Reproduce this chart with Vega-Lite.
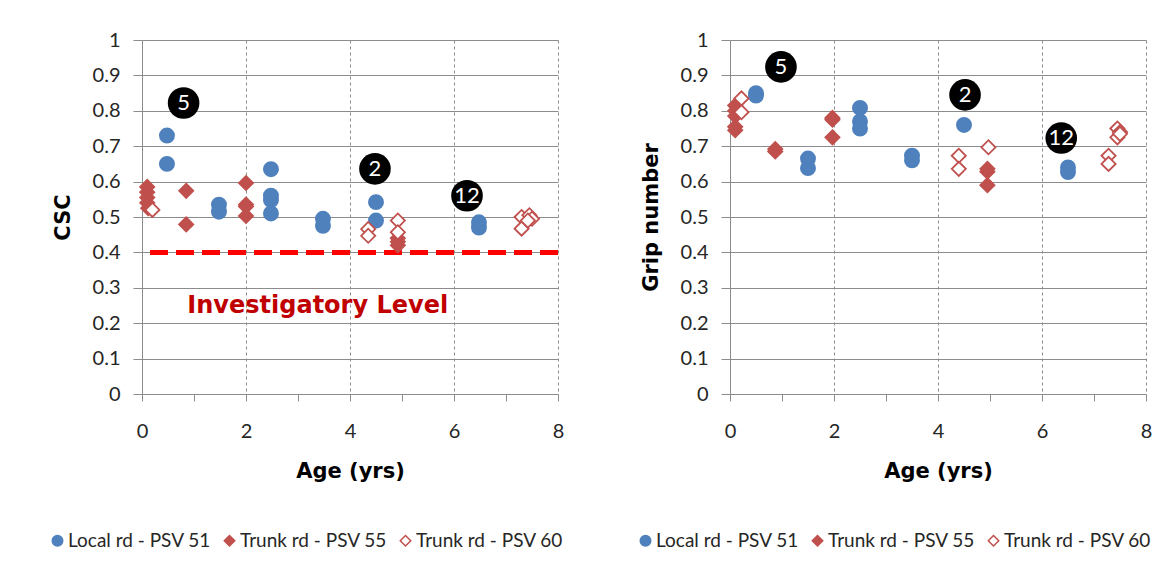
{
  "$schema": "https://vega.github.io/schema/vega-lite/v6.json",
  "background": "white",
  "padding": {"left": 48, "top": 30, "right": 10, "bottom": 10},
  "datasets": {
    "csc": [
      {"series": "Local rd - PSV 51", "age": 0.48, "value": 0.73},
      {"series": "Local rd - PSV 51", "age": 0.48, "value": 0.65},
      {"series": "Local rd - PSV 51", "age": 1.48, "value": 0.535},
      {"series": "Local rd - PSV 51", "age": 1.48, "value": 0.515},
      {"series": "Local rd - PSV 51", "age": 2.48, "value": 0.635},
      {"series": "Local rd - PSV 51", "age": 2.48, "value": 0.56},
      {"series": "Local rd - PSV 51", "age": 2.48, "value": 0.548},
      {"series": "Local rd - PSV 51", "age": 2.48, "value": 0.51},
      {"series": "Local rd - PSV 51", "age": 3.48, "value": 0.495},
      {"series": "Local rd - PSV 51", "age": 3.48, "value": 0.475},
      {"series": "Local rd - PSV 51", "age": 4.5, "value": 0.542},
      {"series": "Local rd - PSV 51", "age": 4.5, "value": 0.49},
      {"series": "Local rd - PSV 51", "age": 6.48, "value": 0.485},
      {"series": "Local rd - PSV 51", "age": 6.48, "value": 0.47},
      {"series": "Trunk rd - PSV 55", "age": 0.1, "value": 0.585},
      {"series": "Trunk rd - PSV 55", "age": 0.1, "value": 0.57},
      {"series": "Trunk rd - PSV 55", "age": 0.1, "value": 0.555},
      {"series": "Trunk rd - PSV 55", "age": 0.1, "value": 0.54},
      {"series": "Trunk rd - PSV 55", "age": 0.12, "value": 0.525},
      {"series": "Trunk rd - PSV 55", "age": 0.85, "value": 0.574},
      {"series": "Trunk rd - PSV 55", "age": 0.85, "value": 0.479},
      {"series": "Trunk rd - PSV 55", "age": 2.0, "value": 0.596},
      {"series": "Trunk rd - PSV 55", "age": 2.0, "value": 0.535},
      {"series": "Trunk rd - PSV 55", "age": 2.0, "value": 0.53},
      {"series": "Trunk rd - PSV 55", "age": 2.0, "value": 0.503},
      {"series": "Trunk rd - PSV 55", "age": 4.92, "value": 0.44},
      {"series": "Trunk rd - PSV 55", "age": 4.92, "value": 0.43},
      {"series": "Trunk rd - PSV 55", "age": 4.92, "value": 0.42},
      {"series": "Trunk rd - PSV 60", "age": 0.2, "value": 0.52},
      {"series": "Trunk rd - PSV 60", "age": 4.35, "value": 0.466},
      {"series": "Trunk rd - PSV 60", "age": 4.35, "value": 0.447},
      {"series": "Trunk rd - PSV 60", "age": 4.92, "value": 0.49},
      {"series": "Trunk rd - PSV 60", "age": 4.92, "value": 0.457},
      {"series": "Trunk rd - PSV 60", "age": 7.3, "value": 0.5},
      {"series": "Trunk rd - PSV 60", "age": 7.3, "value": 0.467},
      {"series": "Trunk rd - PSV 60", "age": 7.45, "value": 0.505},
      {"series": "Trunk rd - PSV 60", "age": 7.5, "value": 0.495},
      {"series": "Trunk rd - PSV 60", "age": 7.42, "value": 0.49}
    ],
    "grip": [
      {"series": "Local rd - PSV 51", "age": 0.5, "value": 0.85},
      {"series": "Local rd - PSV 51", "age": 0.5, "value": 0.843},
      {"series": "Local rd - PSV 51", "age": 1.5, "value": 0.665},
      {"series": "Local rd - PSV 51", "age": 1.5, "value": 0.638},
      {"series": "Local rd - PSV 51", "age": 2.5, "value": 0.808},
      {"series": "Local rd - PSV 51", "age": 2.5, "value": 0.77},
      {"series": "Local rd - PSV 51", "age": 2.5, "value": 0.75},
      {"series": "Local rd - PSV 51", "age": 3.5, "value": 0.673},
      {"series": "Local rd - PSV 51", "age": 3.5, "value": 0.66},
      {"series": "Local rd - PSV 51", "age": 4.5, "value": 0.76},
      {"series": "Local rd - PSV 51", "age": 6.5, "value": 0.64},
      {"series": "Local rd - PSV 51", "age": 6.5, "value": 0.627},
      {"series": "Trunk rd - PSV 55", "age": 0.1, "value": 0.815},
      {"series": "Trunk rd - PSV 55", "age": 0.1, "value": 0.8},
      {"series": "Trunk rd - PSV 55", "age": 0.1, "value": 0.785},
      {"series": "Trunk rd - PSV 55", "age": 0.1, "value": 0.755},
      {"series": "Trunk rd - PSV 55", "age": 0.1, "value": 0.745},
      {"series": "Trunk rd - PSV 55", "age": 0.87, "value": 0.692},
      {"series": "Trunk rd - PSV 55", "age": 0.87, "value": 0.685},
      {"series": "Trunk rd - PSV 55", "age": 1.97, "value": 0.78},
      {"series": "Trunk rd - PSV 55", "age": 1.97, "value": 0.775},
      {"series": "Trunk rd - PSV 55", "age": 1.97, "value": 0.725},
      {"series": "Trunk rd - PSV 55", "age": 4.95, "value": 0.636},
      {"series": "Trunk rd - PSV 55", "age": 4.95, "value": 0.628},
      {"series": "Trunk rd - PSV 55", "age": 4.95, "value": 0.59},
      {"series": "Trunk rd - PSV 60", "age": 0.22, "value": 0.835},
      {"series": "Trunk rd - PSV 60", "age": 0.22, "value": 0.796},
      {"series": "Trunk rd - PSV 60", "age": 4.4, "value": 0.673},
      {"series": "Trunk rd - PSV 60", "age": 4.4, "value": 0.636},
      {"series": "Trunk rd - PSV 60", "age": 4.97, "value": 0.697},
      {"series": "Trunk rd - PSV 60", "age": 7.28, "value": 0.673},
      {"series": "Trunk rd - PSV 60", "age": 7.28, "value": 0.65},
      {"series": "Trunk rd - PSV 60", "age": 7.45, "value": 0.75},
      {"series": "Trunk rd - PSV 60", "age": 7.5, "value": 0.74},
      {"series": "Trunk rd - PSV 60", "age": 7.45, "value": 0.725},
      {"series": "Trunk rd - PSV 60", "age": 7.5, "value": 0.735}
    ],
    "annL": [
      {"age": 0.8, "value": 0.822, "label": "5"},
      {"age": 4.48, "value": 0.636, "label": "2"},
      {"age": 6.25, "value": 0.56, "label": "12"}
    ],
    "annR": [
      {"age": 0.98, "value": 0.924, "label": "5"},
      {"age": 4.52, "value": 0.845, "label": "2"},
      {"age": 6.37, "value": 0.723, "label": "12"}
    ],
    "level": [
      {"value": 0.4, "age": 3.38, "labelValue": 0.249, "label": "Investigatory Level"}
    ]
  },
  "spacing": 72,
  "resolve": {"legend": {"fill": "independent", "stroke": "independent", "shape": "independent"}},
  "hconcat": [
    {
      "width": 416,
      "height": 354,
      "encoding": {
        "x": {"field": "age", "type": "quantitative", "scale": {"domain": [0, 8], "nice": false},
          "axis": {"title": "Age (yrs)", "values": [0,1,2,3,4,5,6,7,8], "labelExpr": "datum.value % 2 ? '' : datum.label",
            "gridOpacity": {"condition": {"test": "datum.value % 2 === 1 || datum.value === 0", "value": 0}, "value": 1}}},
        "y": {"field": "value", "type": "quantitative", "scale": {"domain": [0, 1], "nice": false},
          "axis": {"title": "CSC", "values": [0,0.1,0.2,0.3,0.4,0.5,0.6,0.7,0.8,0.9,1]}}
      },
      "layer": [
        {
          "data": {"name": "level"},
          "mark": {"type": "rule", "color": "#ff0000", "strokeWidth": 5, "strokeDash": [18, 8]},
          "encoding": {"x": null}
        },
        {
          "data": {"name": "level"},
          "mark": {"type": "text", "color": "#c00000", "font": "DejaVu Sans", "fontWeight": "bold", "fontSize": 24},
          "encoding": {
            "y": {"field": "labelValue", "type": "quantitative"},
            "text": {"field": "label"}
          }
        },
        {
          "data": {"name": "csc"},
          "mark": {"type": "point", "size": 200, "strokeWidth": 1.8, "opacity": 1},
          "encoding": {
            "fill": {"field": "series", "type": "nominal", "scale": {"domain": ["Local rd - PSV 51", "Trunk rd - PSV 55", "Trunk rd - PSV 60"], "range": ["#4f81bd", "#c0504d", "#ffffff"]},
              "legend": {"title": null, "orient": "none", "legendX": -94, "legendY": 491, "direction": "horizontal"}},
            "stroke": {"field": "series", "type": "nominal", "scale": {"domain": ["Local rd - PSV 51", "Trunk rd - PSV 55", "Trunk rd - PSV 60"], "range": ["#4f81bd", "#c0504d", "#c0504d"]},
              "legend": {"title": null, "orient": "none", "legendX": -94, "legendY": 491, "direction": "horizontal"}},
            "shape": {"field": "series", "type": "nominal", "scale": {"domain": ["Local rd - PSV 51", "Trunk rd - PSV 55", "Trunk rd - PSV 60"], "range": ["circle", "diamond", "diamond"]},
              "legend": {"title": null, "orient": "none", "legendX": -94, "legendY": 491, "direction": "horizontal"}}
          }
        },
        {
          "data": {"name": "annL"},
          "mark": {"type": "point", "filled": true, "color": "#000000", "size": 1000, "opacity": 1}
        },
        {
          "data": {"name": "annL"},
          "mark": {"type": "text", "color": "#ffffff", "fontSize": 22, "font": "Lato"},
          "encoding": {"text": {"field": "label"}}
        }
      ]
    },
    {
      "width": 416,
      "height": 354,
      "encoding": {
        "x": {"field": "age", "type": "quantitative", "scale": {"domain": [0, 8], "nice": false},
          "axis": {"title": "Age (yrs)", "values": [0,1,2,3,4,5,6,7,8], "labelExpr": "datum.value % 2 ? '' : datum.label",
            "gridOpacity": {"condition": {"test": "datum.value % 2 === 1 || datum.value === 0", "value": 0}, "value": 1}}},
        "y": {"field": "value", "type": "quantitative", "scale": {"domain": [0, 1], "nice": false},
          "axis": {"title": "Grip number", "values": [0,0.1,0.2,0.3,0.4,0.5,0.6,0.7,0.8,0.9,1]}}
      },
      "layer": [
        {
          "data": {"name": "grip"},
          "mark": {"type": "point", "size": 200, "strokeWidth": 1.8, "opacity": 1},
          "encoding": {
            "fill": {"field": "series", "type": "nominal", "scale": {"domain": ["Local rd - PSV 51", "Trunk rd - PSV 55", "Trunk rd - PSV 60"], "range": ["#4f81bd", "#c0504d", "#ffffff"]},
              "legend": {"title": null, "orient": "none", "legendX": -94, "legendY": 491, "direction": "horizontal"}},
            "stroke": {"field": "series", "type": "nominal", "scale": {"domain": ["Local rd - PSV 51", "Trunk rd - PSV 55", "Trunk rd - PSV 60"], "range": ["#4f81bd", "#c0504d", "#c0504d"]},
              "legend": {"title": null, "orient": "none", "legendX": -94, "legendY": 491, "direction": "horizontal"}},
            "shape": {"field": "series", "type": "nominal", "scale": {"domain": ["Local rd - PSV 51", "Trunk rd - PSV 55", "Trunk rd - PSV 60"], "range": ["circle", "diamond", "diamond"]},
              "legend": {"title": null, "orient": "none", "legendX": -94, "legendY": 491, "direction": "horizontal"}}
          }
        },
        {
          "data": {"name": "annR"},
          "mark": {"type": "point", "filled": true, "color": "#000000", "size": 1000, "opacity": 1}
        },
        {
          "data": {"name": "annR"},
          "mark": {"type": "text", "color": "#ffffff", "fontSize": 22, "font": "Lato"},
          "encoding": {"text": {"field": "label"}}
        }
      ]
    }
  ],
  "config": {
    "font": "Lato",
    "view": {"stroke": null},
    "axis": {
      "domainColor": "#8c8c8c",
      "tickColor": "#8c8c8c",
      "gridColor": "#8c8c8c",
      "gridWidth": 1,
      "labelFont": "Lato",
      "labelFontSize": 20,
      "labelColor": "#262626",
      "labelOverlap": false,
      "titleFont": "DejaVu Sans",
      "titleFontSize": 21,
      "titleFontWeight": "bold",
      "titleColor": "#000000"
    },
    "axisX": {"gridDash": [3, 3], "tickSize": 7, "labelPadding": 20, "titlePadding": 19, "labelFlush": false},
    "axisY": {"tickSize": 9, "labelPadding": 13, "titlePadding": 19, "format": ".1~f"},
    "legend": {
      "labelFont": "Lato",
      "labelFontSize": 19,
      "labelColor": "#262626",
      "symbolSize": 110,
      "symbolStrokeWidth": 1.5,
      "columnPadding": 9,
      "labelOffset": 1
    }
  }
}
